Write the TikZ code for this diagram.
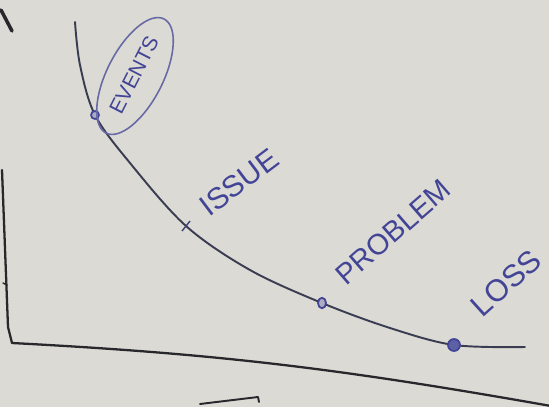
\documentclass[tikz,border=0pt]{standalone}
\usepackage{fontspec}
\setmainfont{Liberation Sans}
\usetikzlibrary{shapes.geometric}
\definecolor{board}{RGB}{219,218,212}
\definecolor{ink}{RGB}{58,60,82}
\definecolor{pen}{RGB}{66,68,150}
\definecolor{axisink}{RGB}{40,40,44}
\tikzset{
  curve/.style={draw=ink, line width=1.1pt, line cap=round},
  axisline/.style={draw=axisink, line width=1.3pt, line cap=round, line join=round},
  pt/.style={circle, draw=pen, line width=1pt, fill=pen!30!board, inner sep=0pt,
             minimum size=1.6mm},
  bigpt/.style={pt, fill=pen!85, minimum size=2.4mm},
  word/.style={text=pen, inner sep=0pt},
  ring/.style={ellipse, draw=pen!75!board, line width=0.9pt, inner sep=0pt,
               minimum width=2.56cm, minimum height=1.12cm},
}

\begin{document}
\begin{tikzpicture}[x=0.02cm,y=0.02cm]

% ===================== board =====================
\fill[board] (0,0) rectangle (549,407);
\useasboundingbox (0,0) rectangle (549,407);

% ===================== axes =====================
\coordinate (ytop)   at (2,237);
\coordinate (corner) at (12,64);
\coordinate (xend)   at (551,1);
\draw[axisline] (ytop) -- (8,80) -- (corner) to[out=-3,in=170] (xend);
\draw[axisline, line width=0.8pt] (3,124) -- (7,122);
\draw[axisline, line width=2pt] (1,397) -- (12,376);
\draw[axisline, line width=1.1pt] (200,3) -- (258,10) -- (259,5);

% ===================== curve =====================
\coordinate (c0) at (75,385);
\coordinate (c1) at (80,342);
\coordinate (ev) at (95,292);
\coordinate (c2) at (130,244);
\coordinate (is) at (186,181);
\coordinate (c3) at (250,137);
\coordinate (pr) at (322,104);
\coordinate (c4) at (390,79);
\coordinate (lo) at (454,62);
\coordinate (c5) at (525,60);
\draw[curve] plot[smooth, tension=0.55] coordinates
  {(c0) (c1) (ev) (c2) (is) (c3) (pr) (c4) (lo) (c5)};

% points on the curve
\node[pt] (evdot) at (ev) {};
\draw[draw=pen!60!ink, line width=0.8pt] ([shift={(4,5)}]is) -- ([shift={(-4,-5)}]is);
\node[pt, ellipse, minimum width=1.6mm, minimum height=2.1mm] (prdot) at (pr) {};
\node[bigpt] (lodot) at (lo) {};

% ===================== labels =====================
\node[ring, rotate=63] (evring) at (135,331) {};
\node[word, rotate=63, font=\fontsize{12}{14}\selectfont] (evtxt) at (134,332) {EVENTS};
\node[word, rotate=37, font=\fontsize{17}{19}\selectfont] (istxt) at (239,225) {ISSUE};
\node[word, rotate=41, font=\fontsize{16.5}{18}\selectfont] (prtxt) at (393,175) {PROBLEM};
\node[word, rotate=42, font=\fontsize{17.5}{19}\selectfont] (lotxt) at (506,124) {LOSS};

\end{tikzpicture}
\end{document}
